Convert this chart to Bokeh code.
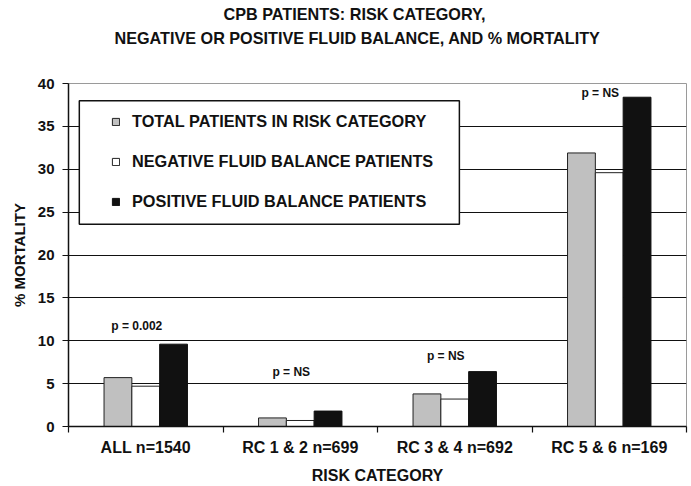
import numpy as np
from bokeh.plotting import figure
from bokeh.models import (Range1d, FixedTicker, LinearAxis, Title, BoxAnnotation,
                          Legend, LegendItem)
from bokeh.core.properties import value
from bokeh.embed import file_html
from bokeh.resources import INLINE

# ---------------- data ----------------
categories = ["ALL n=1540", "RC 1 & 2 n=699", "RC 3 & 4 n=692", "RC 5 & 6 n=169"]
total_patients = [5.7, 1.0, 3.8, 31.9]
negative_balance = [4.7, 0.7, 3.2, 29.6]
positive_balance = [9.6, 1.8, 6.4, 38.4]
series_names = ["TOTAL PATIENTS IN RISK CATEGORY",
                "NEGATIVE FLUID BALANCE PATIENTS",
                "POSITIVE FLUID BALANCE PATIENTS"]
p_labels = ["p = 0.002", "p = NS", "p = NS", "p = NS"]
p_label_y = [11.7, 6.3, 8.2, 38.9]
y_ticks = [0, 5, 10, 15, 20, 25, 30, 35, 40]
title_lines = ["CPB PATIENTS: RISK CATEGORY,",
               "NEGATIVE OR POSITIVE FLUID BALANCE, AND  % MORTALITY"]

FONT = "Liberation Sans"

p = figure(width=691, height=486, x_range=Range1d(0, len(categories)),
           y_range=Range1d(y_ticks[0], y_ticks[-1]),
           output_backend="svg", toolbar_location=None,
           min_border_left=68, min_border_right=5,
           min_border_top=82, min_border_bottom=57)
p.title = None
p.outline_line_color = "#9a9a9a"
p.outline_line_width = 1
p.background_fill_color = "white"
p.border_fill_color = "white"

# titles (first added sits closest to the plot); a spacer keeps them at the top
p.add_layout(Title(text=" ", standoff=32, text_font_size="1px"), "above")
p.add_layout(Title(text=title_lines[1], align="left", offset=46, standoff=4,
                   text_font=FONT, text_font_size="16.2px", text_font_style="bold",
                   text_color="#111111"), "above")
p.add_layout(Title(text=title_lines[0], align="left", offset=155, standoff=4,
                   text_font=FONT, text_font_size="16.2px", text_font_style="bold",
                   text_color="#111111"), "above")

# grid
p.xgrid.visible = False
p.ygrid.ticker = FixedTicker(ticks=y_ticks[1:-1])
p.ygrid.grid_line_color = "#111111"
p.ygrid.grid_line_width = 1

# y axis
ya = p.yaxis[0]
ya.ticker = FixedTicker(ticks=y_ticks)
ya.axis_label = "% MORTALITY"
ya.axis_label_text_font = FONT
ya.axis_label_text_font_style = "bold"
ya.axis_label_text_font_size = "15px"
ya.axis_label_text_color = "#111111"
ya.axis_label_standoff = 7
ya.major_label_text_font = FONT
ya.major_label_text_font_style = "bold"
ya.major_label_text_font_size = "15px"
ya.major_label_text_color = "#111111"
ya.major_label_standoff = 8
ya.major_tick_out = 6
ya.major_tick_in = 0
ya.minor_tick_line_color = None
ya.axis_line_color = "#111111"
ya.axis_line_width = 1.5
ya.major_tick_line_color = "#111111"
ya.major_tick_line_width = 1.2

# x axis: ticks at category boundaries (no labels)
boundaries = list(range(len(categories) + 1))
xa = p.xaxis[0]
xa.ticker = FixedTicker(ticks=boundaries)
xa.major_label_overrides = {b: "" for b in boundaries}
xa.major_label_text_font_size = "1px"
xa.major_label_standoff = 0
xa.major_tick_out = 6
xa.major_tick_in = 0
xa.minor_tick_line_color = None
xa.axis_line_color = "#111111"
xa.axis_line_width = 1.5
xa.major_tick_line_color = "#111111"
xa.major_tick_line_width = 1.2

centers = np.arange(len(categories)) + 0.5
lab_axis = LinearAxis(ticker=FixedTicker(ticks=list(centers)),
                      major_label_overrides={float(c): n for c, n in zip(centers, categories)},
                      axis_line_color=None, major_tick_line_color=None,
                      minor_tick_line_color=None, major_tick_out=0, major_tick_in=0,
                      major_label_standoff=6,
                      major_label_text_font=FONT, major_label_text_font_style="bold",
                      major_label_text_font_size="16px", major_label_text_color="#111111",
                      axis_label="RISK CATEGORY", axis_label_standoff=8,
                      axis_label_text_font=FONT, axis_label_text_font_style="bold",
                      axis_label_text_font_size="16px", axis_label_text_color="#111111")
p.add_layout(lab_axis, "below")

# bars
w = 0.18
r_tot = p.vbar(x=centers - w, top=total_patients, width=w, bottom=0,
               fill_color="#c0c0c0", line_color="#222222", line_width=1)
r_neg = p.vbar(x=centers, top=negative_balance, width=w, bottom=0,
               fill_color="white", line_color="#222222", line_width=1)
r_pos = p.vbar(x=centers + w, top=positive_balance, width=w, bottom=0,
               fill_color="#111111", line_color="#111111", line_width=1)

# p-value annotations
p.text(x=centers, y=p_label_y, text=p_labels, x_offset=-9,
       text_align="center", text_baseline="middle",
       text_font=value(FONT), text_font_style="bold", text_font_size="12px",
       text_color="#111111")

# legend box + legend
box = BoxAnnotation(left=0.07, right=2.53, bottom=23.6, top=38.0,
                    fill_color="white", fill_alpha=1.0,
                    line_color="#111111", line_width=1.5, line_alpha=1.0)
p.add_layout(box)

legend = Legend(items=[LegendItem(label=series_names[0], renderers=[r_tot]),
                       LegendItem(label=series_names[1], renderers=[r_neg]),
                       LegendItem(label=series_names[2], renderers=[r_pos])],
                location=(43, 215), border_line_color=None, background_fill_alpha=0,
                glyph_width=9, glyph_height=9, label_height=20, spacing=20,
                padding=0, margin=0, label_standoff=12,
                label_text_font=FONT, label_text_font_style="bold",
                label_text_font_size="16.3px", label_text_color="#111111")
p.add_layout(legend)

open("out.html", "w").write(file_html(p, INLINE))
